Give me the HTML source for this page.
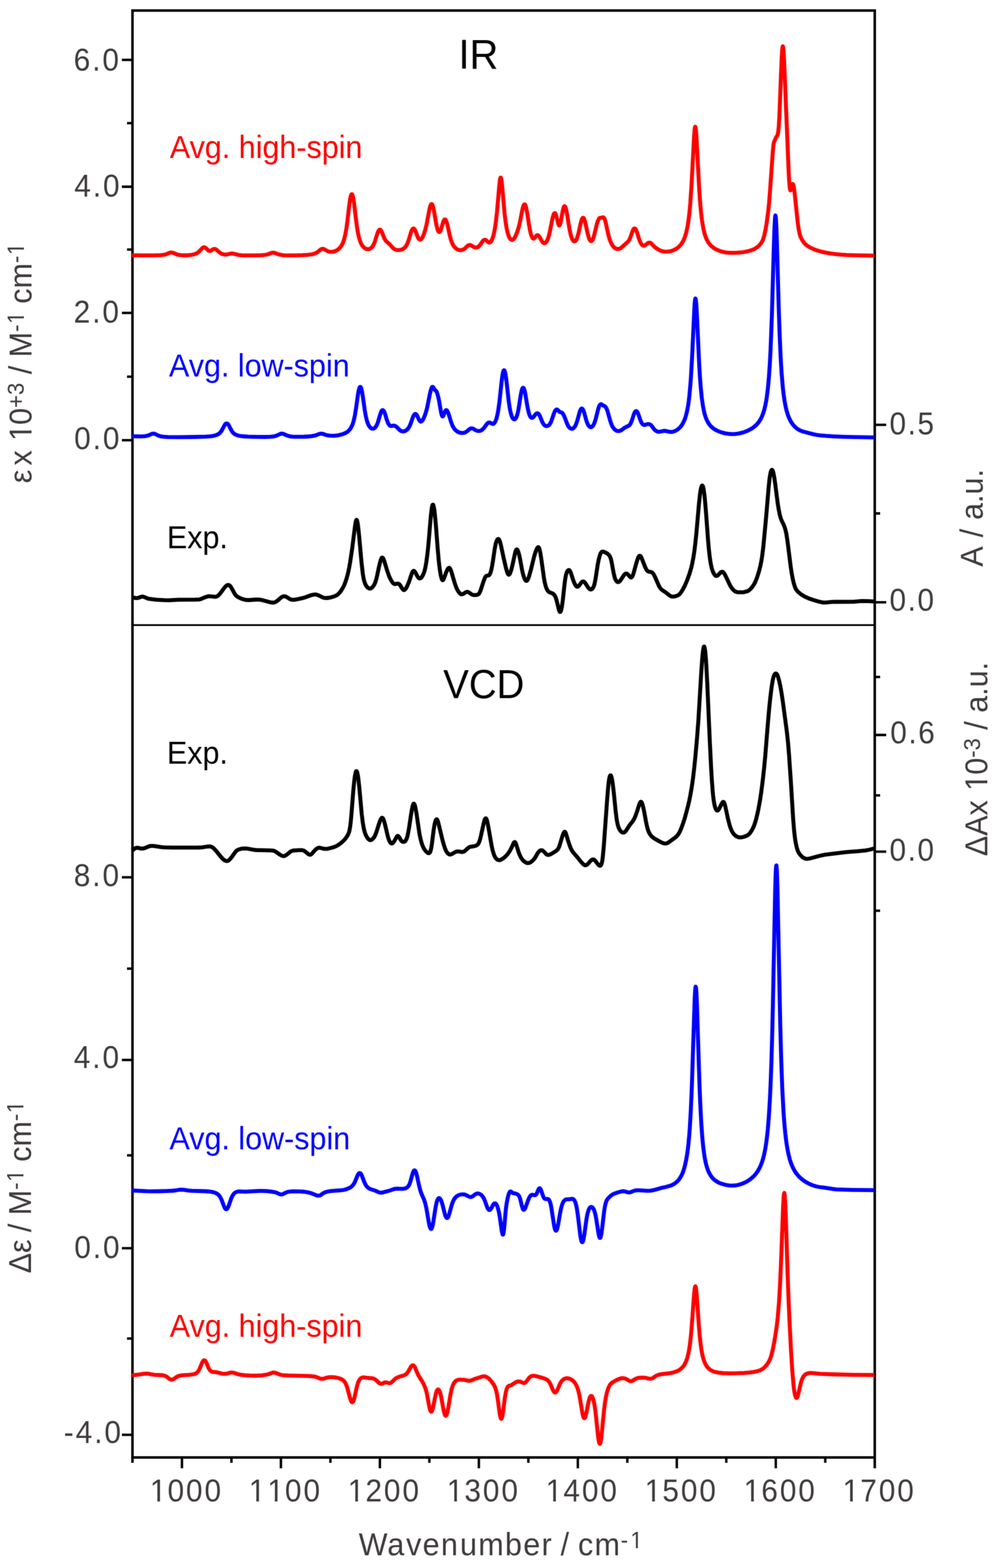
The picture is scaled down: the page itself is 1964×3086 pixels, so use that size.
<!DOCTYPE html>
<html lang="en"><head><meta charset="utf-8"><title>IR and VCD spectra</title>
<style>html,body{margin:0;padding:0;background:#fff}body{width:1964px;height:3086px;overflow:hidden}svg{display:block}text{font-family:"Liberation Sans", Arial, Helvetica, sans-serif;white-space:pre}.tk{fill:#3f3b3c}.ax{stroke:#000;fill:none;stroke-linecap:butt}.cv{fill:none;stroke-linejoin:round;stroke-linecap:butt}</style></head><body>
<svg width="1964" height="3086" viewBox="0 0 1964 3086">
<rect width="1964" height="3086" fill="#fff"/>
<defs><filter id="soft" x="0" y="0" width="1964" height="3086" filterUnits="userSpaceOnUse" color-interpolation-filters="sRGB"><feConvolveMatrix order="3" kernelMatrix="1 4 1 4 16 4 1 4 1" divisor="36" edgeMode="duplicate" preserveAlpha="true"/></filter></defs>
<g filter="url(#soft)">
<rect width="1964" height="3086" fill="#fff"/>
<rect class="ax" stroke-width="5.00" stroke-linejoin="miter" x="260.70" y="20.75" width="1460.75" height="2847.70"/>
<path class="ax" stroke-width="3.40" d="M260.70,1230.20 H1721.45"/>
<path class="ax" stroke-width="4.80" d="M239.90,117.90H260.70M239.90,367.50H260.70M239.90,615.80H260.70M239.90,866.40H260.70M239.90,1726.60H260.70M239.90,2086.20H260.70M239.90,2456.70H260.70M239.90,2823.90H260.70M250.00,242.40H260.70M250.00,491.20H260.70M250.00,741.30H260.70M250.00,1906.30H260.70M250.00,2273.90H260.70M250.00,2634.30H260.70M1721.45,836.20H1743.95M1721.45,1185.30H1743.95M1721.45,1446.50H1743.95M1721.45,1676.20H1743.95M1721.45,1010.50H1732.05M1721.45,1332.30H1732.05M1721.45,1565.40H1732.05M1721.45,1792.30H1732.05M358.08,2868.45V2889.85M552.85,2868.45V2889.85M747.61,2868.45V2889.85M942.38,2868.45V2889.85M1137.15,2868.45V2889.85M1331.91,2868.45V2889.85M1526.68,2868.45V2889.85M455.47,2868.45V2878.95M650.23,2868.45V2878.95M845.00,2868.45V2878.95M1039.77,2868.45V2878.95M1234.54,2868.45V2878.95M1429.30,2868.45V2878.95M1624.07,2868.45V2878.95"/>
<path class="ax" stroke-width="5.00" d="M260.70,2868.45V2878.95M1721.45,2868.45V2889.85"/>
<path class="cv" stroke="#000000" stroke-width="7.80" d="M260.5,1175.6 L266.0,1176.9 L269.5,1177.1 L272.5,1176.5 L278.0,1174.5 L279.5,1174.2 L281.0,1174.2 L284.0,1175.0 L290.5,1177.9 L294.0,1178.7 L308.0,1180.3 L322.5,1181.2 L333.0,1181.3 L351.0,1180.4 L384.5,1180.2 L391.0,1179.9 L393.0,1179.6 L395.5,1178.9 L405.0,1174.9 L409.0,1173.7 L411.0,1173.5 L413.5,1173.5 L423.0,1174.6 L425.0,1174.4 L427.0,1173.7 L429.5,1172.0 L432.0,1169.5 L434.5,1166.4 L440.5,1158.2 L443.5,1154.6 L445.0,1153.2 L446.5,1152.1 L448.0,1151.4 L449.0,1151.2 L450.5,1151.5 L451.5,1152.0 L453.5,1154.0 L456.0,1157.9 L462.0,1168.9 L463.5,1171.0 L465.5,1173.1 L469.0,1175.4 L475.0,1178.2 L480.0,1179.9 L485.0,1180.8 L490.0,1181.0 L504.5,1180.0 L510.5,1180.2 L516.5,1181.2 L531.5,1185.3 L535.0,1185.8 L538.0,1186.0 L540.5,1185.5 L543.0,1184.4 L546.0,1182.2 L553.5,1175.7 L556.0,1174.3 L558.5,1173.5 L560.5,1173.6 L562.5,1174.3 L564.5,1175.3 L569.5,1178.6 L571.5,1179.6 L573.5,1180.2 L576.0,1180.5 L579.5,1180.3 L583.5,1179.7 L595.5,1177.1 L600.5,1175.7 L612.0,1171.5 L615.5,1170.6 L619.0,1170.0 L621.5,1170.1 L624.5,1170.8 L627.0,1171.8 L635.0,1175.7 L637.5,1176.5 L639.5,1176.9 L643.0,1177.0 L647.5,1176.5 L652.0,1175.5 L657.0,1174.0 L661.5,1172.1 L664.5,1170.2 L667.5,1167.3 L671.0,1162.8 L674.5,1157.3 L677.0,1152.5 L679.5,1146.3 L682.0,1138.7 L684.0,1131.5 L685.5,1125.2 L687.0,1118.0 L689.0,1106.9 L693.0,1080.0 L699.0,1032.7 L700.5,1025.1 L701.0,1023.8 L701.5,1023.2 L702.0,1023.3 L702.5,1024.1 L703.0,1025.7 L704.0,1030.8 L705.0,1038.2 L707.0,1057.5 L711.5,1107.8 L714.0,1129.3 L715.5,1138.3 L717.0,1144.5 L719.0,1149.9 L721.0,1153.5 L723.0,1155.9 L725.0,1157.5 L727.0,1158.3 L729.0,1158.3 L730.5,1157.7 L732.5,1156.1 L734.5,1153.8 L736.5,1150.6 L738.5,1146.3 L740.5,1139.9 L742.0,1133.6 L746.0,1114.6 L748.5,1104.6 L749.5,1101.5 L750.5,1099.1 L751.5,1097.7 L752.0,1097.4 L752.5,1097.3 L753.0,1097.5 L754.0,1098.7 L755.5,1102.0 L762.0,1123.3 L765.5,1133.4 L768.0,1139.1 L771.0,1144.3 L773.5,1147.5 L775.0,1148.8 L776.0,1149.3 L778.0,1149.5 L782.0,1148.6 L783.0,1148.5 L784.0,1148.7 L785.0,1149.2 L786.0,1150.0 L787.5,1151.9 L791.0,1157.6 L792.5,1159.7 L794.0,1161.0 L795.0,1161.3 L795.5,1161.3 L796.5,1160.8 L798.0,1159.3 L799.5,1157.0 L801.5,1153.1 L805.0,1144.7 L810.5,1128.3 L812.0,1125.2 L813.0,1124.0 L813.5,1123.6 L814.5,1123.5 L815.0,1123.8 L816.0,1124.6 L817.5,1126.8 L821.0,1133.5 L822.5,1135.9 L824.0,1137.7 L825.5,1138.5 L826.5,1138.5 L827.5,1138.1 L828.5,1137.4 L830.0,1135.7 L832.5,1131.5 L834.5,1126.7 L836.0,1121.7 L837.5,1114.9 L839.0,1106.1 L840.5,1095.4 L842.0,1082.6 L843.5,1067.4 L847.0,1025.3 L848.5,1009.4 L849.5,1001.4 L850.5,995.9 L851.0,994.2 L851.5,993.3 L852.0,993.1 L852.5,993.6 L853.5,996.6 L854.5,1002.1 L855.5,1009.8 L857.5,1030.2 L861.5,1081.7 L863.5,1104.0 L864.5,1113.0 L866.0,1124.2 L867.5,1132.7 L869.0,1138.6 L870.0,1141.0 L870.5,1141.6 L871.0,1141.9 L871.5,1141.9 L872.5,1140.9 L874.0,1137.7 L878.0,1126.4 L880.5,1120.8 L882.0,1118.5 L883.0,1117.7 L884.0,1117.5 L885.0,1118.1 L886.5,1120.5 L888.0,1124.4 L895.0,1148.2 L898.0,1156.5 L900.5,1161.6 L903.0,1165.6 L905.0,1167.9 L907.0,1169.4 L908.5,1169.7 L910.5,1169.3 L912.0,1168.6 L916.5,1165.7 L918.0,1165.1 L919.0,1164.9 L920.5,1165.0 L922.0,1165.6 L928.5,1169.9 L930.5,1170.8 L932.5,1171.2 L936.0,1171.2 L939.5,1170.6 L941.5,1169.5 L943.0,1167.8 L944.5,1165.1 L946.0,1161.3 L952.0,1142.9 L954.5,1136.7 L955.5,1135.0 L957.0,1133.5 L958.5,1133.0 L961.0,1132.7 L962.5,1132.0 L964.0,1130.1 L965.5,1126.5 L967.0,1121.0 L968.5,1113.7 L970.0,1104.7 L973.5,1080.8 L975.5,1070.3 L976.5,1066.8 L978.0,1063.1 L979.5,1061.1 L980.5,1060.7 L981.5,1061.2 L982.5,1062.6 L983.5,1064.9 L984.5,1068.1 L986.0,1074.1 L991.0,1097.6 L995.5,1117.1 L998.0,1126.0 L999.0,1128.5 L1000.0,1130.2 L1001.0,1131.1 L1001.5,1131.1 L1002.0,1130.9 L1003.0,1129.8 L1004.5,1126.6 L1006.0,1122.0 L1008.0,1114.3 L1014.0,1086.8 L1015.0,1083.7 L1016.0,1081.8 L1016.5,1081.3 L1017.0,1081.2 L1017.5,1081.3 L1018.5,1082.5 L1019.5,1084.7 L1021.5,1091.3 L1023.5,1100.6 L1027.5,1122.4 L1030.0,1132.6 L1031.5,1137.0 L1033.0,1140.3 L1034.5,1142.5 L1035.5,1143.2 L1036.5,1143.1 L1037.0,1142.9 L1038.0,1141.7 L1039.5,1138.8 L1041.0,1134.6 L1045.0,1120.5 L1051.0,1095.8 L1052.5,1090.6 L1054.5,1084.7 L1056.0,1081.1 L1057.5,1078.2 L1058.5,1077.1 L1059.0,1076.9 L1059.5,1076.9 L1060.0,1077.2 L1061.0,1078.8 L1061.5,1080.2 L1062.5,1083.9 L1063.5,1089.0 L1065.5,1101.9 L1070.5,1138.0 L1072.0,1146.3 L1074.0,1154.1 L1075.0,1157.0 L1076.5,1160.3 L1077.5,1162.0 L1079.0,1163.8 L1080.0,1164.7 L1081.5,1165.7 L1086.5,1167.6 L1088.5,1168.6 L1090.5,1170.5 L1092.0,1172.7 L1093.5,1175.9 L1095.0,1180.3 L1100.0,1200.6 L1101.0,1203.2 L1101.5,1204.0 L1102.0,1204.4 L1102.5,1204.4 L1103.0,1203.9 L1103.5,1203.1 L1104.5,1200.1 L1105.5,1195.6 L1107.5,1182.0 L1111.0,1149.4 L1112.5,1138.2 L1113.5,1132.9 L1114.5,1129.0 L1115.5,1126.2 L1117.0,1123.4 L1118.5,1122.0 L1119.5,1121.8 L1120.5,1122.2 L1121.0,1122.7 L1122.0,1124.3 L1123.5,1127.8 L1127.5,1140.3 L1129.5,1145.7 L1132.0,1150.9 L1133.5,1153.2 L1134.5,1154.2 L1136.0,1154.8 L1137.0,1154.7 L1138.0,1154.1 L1139.5,1152.6 L1143.5,1147.2 L1145.0,1145.6 L1146.5,1144.6 L1148.0,1144.4 L1149.5,1145.1 L1151.5,1147.1 L1157.0,1155.6 L1159.5,1158.7 L1161.0,1159.8 L1162.0,1160.2 L1163.0,1160.2 L1164.0,1159.9 L1165.0,1159.2 L1166.0,1158.2 L1167.5,1156.0 L1169.0,1152.5 L1170.0,1149.2 L1172.0,1139.2 L1176.5,1109.9 L1178.0,1102.3 L1180.0,1094.5 L1181.5,1090.1 L1182.5,1088.1 L1184.0,1086.2 L1185.5,1085.6 L1187.0,1085.6 L1189.0,1086.2 L1192.0,1087.6 L1195.0,1089.4 L1196.5,1090.5 L1198.0,1091.9 L1199.5,1093.9 L1200.5,1095.7 L1202.0,1099.6 L1203.5,1105.4 L1207.5,1127.4 L1209.5,1135.9 L1210.5,1138.9 L1212.0,1142.0 L1213.0,1143.5 L1214.5,1145.0 L1215.5,1145.5 L1217.0,1145.6 L1218.0,1145.2 L1219.5,1144.1 L1222.0,1140.9 L1228.0,1131.7 L1230.0,1129.6 L1231.5,1128.8 L1233.0,1128.8 L1234.5,1129.5 L1236.0,1130.9 L1239.5,1134.9 L1241.0,1136.2 L1242.0,1136.5 L1242.5,1136.5 L1243.5,1135.8 L1245.0,1133.4 L1246.5,1129.2 L1252.0,1109.2 L1255.0,1099.6 L1256.5,1096.1 L1257.5,1094.6 L1258.5,1093.8 L1259.5,1093.8 L1260.0,1094.1 L1261.0,1095.2 L1262.5,1098.0 L1269.5,1115.7 L1272.0,1120.9 L1273.5,1123.0 L1275.0,1124.3 L1277.0,1125.1 L1280.5,1125.7 L1282.0,1126.2 L1284.0,1127.4 L1285.5,1129.1 L1287.0,1131.4 L1289.0,1135.4 L1296.5,1152.6 L1298.0,1155.4 L1300.0,1158.3 L1301.5,1159.9 L1303.5,1161.6 L1310.5,1166.2 L1317.0,1171.4 L1319.0,1172.7 L1321.0,1173.7 L1323.0,1174.1 L1325.0,1174.2 L1327.5,1173.8 L1330.5,1173.1 L1333.0,1172.2 L1335.0,1171.2 L1336.5,1170.1 L1338.0,1168.7 L1339.5,1166.8 L1343.5,1160.6 L1348.0,1152.1 L1352.5,1141.4 L1357.0,1128.9 L1360.5,1116.8 L1362.5,1108.0 L1364.5,1097.4 L1366.5,1084.3 L1368.0,1072.6 L1370.5,1048.9 L1375.5,991.7 L1377.5,973.0 L1378.5,966.1 L1380.0,958.9 L1381.0,956.3 L1381.5,955.7 L1382.0,955.5 L1382.5,955.9 L1383.0,956.7 L1383.5,958.0 L1384.5,962.2 L1385.5,968.2 L1387.0,980.8 L1389.0,1003.7 L1393.5,1064.1 L1395.0,1080.8 L1396.5,1094.4 L1398.0,1105.1 L1399.5,1113.2 L1401.0,1119.4 L1403.0,1125.2 L1404.5,1128.4 L1406.5,1131.5 L1407.5,1132.6 L1408.5,1133.3 L1410.0,1133.6 L1411.5,1133.1 L1413.0,1132.0 L1417.5,1127.3 L1419.0,1126.0 L1420.0,1125.5 L1421.0,1125.3 L1422.5,1125.6 L1423.5,1126.4 L1424.5,1127.6 L1426.5,1130.8 L1430.5,1138.8 L1436.0,1150.6 L1438.0,1154.3 L1441.0,1158.6 L1444.0,1161.9 L1447.0,1164.1 L1448.5,1164.8 L1450.5,1165.3 L1454.0,1165.6 L1459.5,1165.7 L1462.5,1165.6 L1465.5,1165.1 L1470.5,1163.7 L1472.5,1162.8 L1474.5,1161.4 L1476.5,1159.6 L1479.0,1156.9 L1481.5,1153.6 L1483.5,1150.6 L1485.5,1147.0 L1487.0,1143.8 L1490.0,1136.1 L1493.5,1125.0 L1496.5,1113.1 L1498.0,1105.8 L1499.5,1096.9 L1501.0,1085.9 L1502.5,1072.7 L1507.5,1019.9 L1512.5,960.8 L1514.0,945.6 L1515.0,937.9 L1516.5,929.8 L1517.5,926.7 L1518.0,925.6 L1518.5,925.0 L1519.0,924.7 L1519.5,924.9 L1520.0,925.3 L1521.0,927.4 L1522.0,930.9 L1523.5,938.4 L1525.5,951.7 L1530.5,990.7 L1532.0,1000.2 L1534.0,1010.6 L1535.5,1016.7 L1537.0,1021.4 L1538.5,1025.1 L1542.5,1033.3 L1544.5,1038.6 L1546.0,1043.8 L1547.5,1050.7 L1550.0,1066.9 L1556.0,1115.1 L1558.0,1128.1 L1560.0,1138.9 L1562.0,1147.6 L1564.0,1154.2 L1566.0,1158.8 L1568.5,1162.6 L1571.5,1165.7 L1576.5,1169.7 L1581.5,1172.9 L1587.0,1175.7 L1593.0,1178.3 L1599.5,1180.5 L1613.0,1184.4 L1618.0,1185.5 L1621.0,1185.8 L1624.5,1185.8 L1637.0,1184.7 L1642.0,1184.5 L1679.5,1184.3 L1692.5,1183.2 L1697.0,1183.0 L1709.5,1183.1 L1721.0,1183.8"/>
<path class="cv" stroke="#0000ff" stroke-width="7.80" d="M259.5,858.7 L277.0,858.9 L282.0,858.7 L286.0,858.4 L291.0,857.3 L293.5,856.3 L298.0,854.2 L300.0,853.6 L301.5,853.5 L303.5,853.6 L305.0,854.0 L312.0,857.4 L316.0,858.7 L322.0,859.6 L330.5,860.1 L350.5,860.4 L382.0,860.0 L404.5,859.3 L411.5,858.9 L417.0,858.3 L422.0,857.4 L426.0,856.1 L429.5,854.5 L432.0,852.7 L434.0,850.6 L436.0,847.9 L442.5,835.8 L444.0,834.1 L445.0,833.5 L446.0,833.3 L447.0,833.5 L448.0,834.1 L449.5,835.8 L451.0,838.4 L454.0,844.5 L456.0,848.1 L458.0,850.9 L460.5,853.4 L463.5,855.3 L467.0,856.7 L471.5,857.8 L477.0,858.5 L488.0,859.3 L506.5,859.8 L521.5,860.0 L531.5,859.7 L537.0,859.1 L541.5,858.2 L545.0,857.0 L551.0,854.2 L552.5,853.7 L554.5,853.5 L556.5,853.7 L558.0,854.1 L564.5,857.0 L569.0,858.3 L575.0,859.3 L582.0,859.7 L589.5,859.7 L598.5,859.5 L607.0,859.0 L613.5,858.4 L620.0,857.2 L623.0,856.2 L628.0,854.2 L630.0,853.7 L631.5,853.5 L633.5,853.6 L635.0,853.8 L641.0,855.9 L643.5,856.6 L649.0,857.4 L654.5,857.7 L658.5,857.6 L662.5,857.2 L667.0,856.4 L672.5,855.0 L676.5,853.7 L680.0,852.2 L683.0,850.4 L686.0,847.9 L688.5,845.2 L690.5,842.3 L692.5,838.4 L694.0,834.8 L695.5,830.1 L697.0,824.3 L698.5,817.0 L700.5,804.7 L704.5,776.0 L706.0,767.8 L707.5,762.9 L708.0,762.1 L708.5,761.6 L709.0,761.4 L709.5,761.6 L710.0,762.2 L711.0,764.5 L712.5,770.8 L714.0,780.1 L718.0,808.4 L719.5,817.0 L721.5,825.9 L723.5,832.3 L724.5,834.8 L726.0,837.8 L727.0,839.4 L728.5,841.2 L730.0,842.5 L731.5,843.4 L732.5,843.7 L734.0,843.7 L736.0,843.2 L737.5,842.1 L738.5,841.2 L740.5,838.4 L742.5,834.3 L744.0,830.2 L748.0,816.4 L749.5,811.9 L751.0,808.7 L752.0,807.6 L753.0,807.1 L754.0,807.4 L755.0,808.4 L756.5,811.2 L758.0,815.4 L761.0,825.4 L762.5,829.8 L764.0,833.3 L766.0,836.4 L767.5,837.7 L769.0,838.3 L770.5,838.3 L773.5,837.8 L775.0,837.7 L776.5,837.9 L778.0,838.5 L780.5,840.2 L786.5,846.3 L788.5,847.7 L790.5,848.6 L792.0,848.9 L793.5,849.0 L795.5,848.8 L797.0,848.3 L798.5,847.6 L800.0,846.6 L801.5,845.3 L803.0,843.6 L805.0,840.6 L807.0,836.6 L809.0,831.4 L812.0,822.6 L813.5,818.9 L815.0,816.3 L816.5,814.9 L817.5,814.7 L818.5,815.0 L820.0,816.6 L821.5,819.3 L824.5,825.9 L825.5,827.6 L826.5,828.9 L828.0,829.8 L828.5,829.8 L829.5,829.4 L831.0,828.0 L833.0,824.7 L835.5,819.0 L837.5,813.4 L839.5,806.6 L841.0,800.4 L846.0,775.3 L847.5,768.9 L848.5,765.6 L849.5,763.1 L850.5,761.6 L851.0,761.3 L851.5,761.3 L852.5,762.1 L855.5,767.2 L858.5,769.8 L859.5,771.5 L860.5,774.3 L862.0,779.6 L863.5,786.0 L868.0,811.7 L869.0,816.0 L870.0,818.7 L870.5,819.4 L871.0,819.7 L871.5,819.5 L872.0,819.0 L873.0,817.1 L876.0,809.4 L877.0,807.8 L878.0,807.1 L878.5,807.1 L879.5,807.8 L881.0,810.2 L882.5,813.7 L887.5,829.9 L890.0,836.7 L891.5,839.8 L893.0,842.3 L894.5,844.4 L896.5,846.6 L899.5,849.0 L902.5,850.7 L905.5,851.7 L909.0,852.2 L912.5,851.9 L914.5,851.4 L916.0,850.7 L919.0,848.8 L924.0,844.5 L925.5,843.6 L927.5,843.1 L929.5,843.1 L931.0,843.6 L936.0,846.7 L938.5,847.8 L941.0,848.3 L943.5,848.2 L945.5,847.7 L947.0,847.0 L948.5,846.1 L950.0,844.9 L952.5,842.2 L958.0,834.4 L959.5,832.9 L960.5,832.2 L962.0,831.6 L963.5,831.5 L965.0,832.1 L968.5,834.2 L969.5,834.4 L970.5,834.4 L972.0,833.5 L973.0,832.5 L974.5,830.1 L975.5,827.9 L977.0,823.7 L978.0,820.0 L979.5,813.3 L980.5,807.7 L983.0,789.7 L987.0,752.2 L988.5,740.3 L990.0,732.4 L991.0,729.6 L991.5,728.9 L992.0,728.7 L992.5,729.0 L993.0,729.7 L994.0,732.7 L995.5,740.8 L997.0,752.6 L1001.0,788.6 L1002.5,799.3 L1004.0,807.8 L1005.5,814.3 L1007.5,820.2 L1008.5,822.3 L1009.5,823.8 L1010.5,824.8 L1011.5,825.3 L1012.5,825.4 L1013.5,825.0 L1015.0,823.4 L1016.5,820.5 L1018.0,816.0 L1019.0,812.1 L1020.5,804.7 L1024.5,779.4 L1026.0,771.2 L1027.5,765.7 L1028.5,763.7 L1029.0,763.2 L1029.5,763.1 L1030.0,763.2 L1030.5,763.7 L1031.0,764.5 L1032.5,769.0 L1034.0,776.3 L1037.5,797.8 L1039.0,805.7 L1041.0,813.8 L1042.0,816.7 L1043.5,819.9 L1044.5,821.2 L1045.5,822.1 L1046.5,822.5 L1048.0,822.2 L1049.0,821.6 L1050.0,820.6 L1054.0,815.3 L1055.5,813.9 L1057.0,813.3 L1058.0,813.4 L1059.0,813.8 L1060.5,815.2 L1062.0,817.7 L1067.0,830.0 L1069.0,833.8 L1070.0,835.3 L1071.5,837.0 L1072.5,837.7 L1074.0,838.4 L1076.0,838.7 L1078.0,838.3 L1080.0,837.0 L1082.0,834.7 L1084.0,831.2 L1085.5,827.6 L1090.0,814.1 L1091.5,810.4 L1092.5,808.5 L1094.0,806.6 L1095.0,806.0 L1096.0,805.9 L1097.5,806.8 L1101.0,810.5 L1102.0,811.0 L1105.0,811.7 L1106.0,812.3 L1108.0,814.7 L1109.5,817.4 L1111.0,820.7 L1116.5,835.1 L1118.0,838.1 L1120.0,841.1 L1121.5,842.6 L1123.5,843.7 L1125.5,844.0 L1127.5,843.4 L1129.0,842.3 L1130.5,840.7 L1132.0,838.4 L1133.5,835.3 L1136.0,828.2 L1140.0,813.4 L1141.5,808.6 L1143.0,805.5 L1144.0,804.3 L1145.0,804.0 L1146.0,804.4 L1147.0,805.5 L1148.5,808.8 L1150.0,813.5 L1154.0,828.0 L1155.5,832.2 L1157.0,835.5 L1158.5,838.0 L1160.5,840.0 L1161.5,840.6 L1162.5,840.8 L1164.0,840.6 L1165.5,839.6 L1167.0,837.8 L1168.5,835.2 L1169.5,833.0 L1171.0,828.9 L1172.5,823.9 L1176.5,807.7 L1178.5,800.9 L1179.5,798.6 L1180.5,796.9 L1182.0,795.6 L1183.0,795.5 L1184.0,795.9 L1187.0,798.1 L1189.5,799.1 L1190.5,799.7 L1191.5,800.7 L1193.0,803.0 L1194.5,806.2 L1195.5,809.0 L1201.0,828.5 L1202.5,833.0 L1204.0,836.7 L1206.0,840.6 L1208.5,844.0 L1211.0,846.4 L1213.5,847.8 L1215.0,848.2 L1217.0,848.4 L1219.0,848.2 L1221.0,847.6 L1223.5,846.2 L1229.5,841.7 L1232.0,840.4 L1236.5,838.4 L1238.5,837.0 L1240.5,834.4 L1242.5,830.3 L1244.0,826.1 L1247.0,816.6 L1248.5,812.6 L1250.0,810.0 L1251.0,809.2 L1252.0,809.0 L1253.0,809.4 L1254.0,810.5 L1255.5,813.3 L1260.0,826.3 L1262.0,831.1 L1264.0,834.2 L1265.0,835.2 L1266.0,835.9 L1267.0,836.3 L1268.5,836.4 L1270.0,836.1 L1273.5,834.8 L1275.0,834.6 L1277.0,834.7 L1279.0,835.4 L1280.5,836.2 L1282.0,837.6 L1287.0,844.4 L1289.0,846.6 L1291.5,848.4 L1294.5,849.5 L1296.5,849.8 L1298.5,849.7 L1304.5,848.3 L1307.5,848.0 L1310.5,848.2 L1316.0,849.6 L1318.5,850.0 L1321.5,850.1 L1324.5,849.6 L1327.0,848.8 L1330.0,847.5 L1332.5,846.0 L1335.0,844.1 L1337.5,841.8 L1339.5,839.6 L1341.5,837.0 L1343.5,833.8 L1346.5,827.8 L1348.0,824.0 L1349.5,819.4 L1352.0,809.7 L1354.0,799.1 L1355.5,788.8 L1357.0,775.8 L1359.5,746.1 L1362.0,702.7 L1366.5,606.0 L1367.5,592.8 L1368.0,589.0 L1368.5,587.5 L1369.0,588.1 L1369.5,591.0 L1370.5,602.7 L1371.5,620.7 L1376.0,717.9 L1377.5,742.8 L1379.0,762.5 L1381.0,782.5 L1383.5,800.0 L1386.0,812.0 L1387.5,817.5 L1389.0,822.1 L1391.0,827.0 L1393.5,831.7 L1396.0,835.5 L1399.0,839.0 L1402.5,842.2 L1406.5,845.0 L1411.0,847.5 L1416.0,849.6 L1422.0,851.6 L1428.5,853.1 L1435.0,854.0 L1441.0,854.3 L1446.5,854.1 L1452.5,853.4 L1458.5,852.1 L1464.5,850.4 L1469.5,848.5 L1474.0,846.4 L1478.5,843.9 L1482.5,841.2 L1486.0,838.4 L1489.5,835.1 L1492.5,831.5 L1495.0,828.0 L1497.5,823.7 L1499.5,819.5 L1501.5,814.5 L1503.0,809.9 L1504.5,804.7 L1506.0,798.4 L1507.5,790.8 L1509.0,781.6 L1511.0,765.8 L1513.0,744.7 L1515.0,715.7 L1516.5,686.9 L1519.0,621.4 L1523.0,480.9 L1524.0,451.2 L1525.0,431.2 L1525.5,425.9 L1526.0,424.1 L1526.5,425.9 L1527.0,431.2 L1528.0,451.3 L1529.0,481.0 L1532.5,605.8 L1534.0,650.9 L1536.0,697.9 L1538.0,732.2 L1540.5,762.2 L1542.0,775.5 L1544.0,789.4 L1546.0,800.0 L1548.0,808.4 L1550.5,816.6 L1553.0,823.0 L1556.5,829.9 L1558.5,833.0 L1560.5,835.7 L1562.5,838.1 L1565.0,840.6 L1567.5,842.8 L1570.0,844.6 L1574.5,847.2 L1579.0,849.0 L1590.5,852.1 L1600.5,854.6 L1607.5,856.0 L1614.0,856.9 L1626.0,857.9 L1641.0,858.8 L1658.5,859.6 L1678.0,860.2 L1721.0,860.8"/>
<path class="cv" stroke="#ff0000" stroke-width="7.80" d="M259.5,502.5 L300.5,502.6 L316.5,502.2 L321.0,501.7 L324.5,501.1 L327.5,500.1 L333.5,497.6 L335.5,497.1 L337.0,497.0 L340.0,497.4 L348.0,500.7 L350.5,501.4 L353.5,501.9 L358.0,502.3 L363.5,502.5 L369.0,502.4 L374.0,501.9 L378.5,501.3 L382.0,500.5 L385.0,499.5 L387.5,498.3 L389.5,497.0 L391.5,495.3 L398.0,488.3 L400.0,487.0 L401.5,486.6 L403.0,486.8 L404.5,487.6 L409.5,492.5 L411.0,493.6 L412.0,493.9 L413.0,494.0 L414.5,493.6 L419.0,490.7 L420.5,490.0 L422.0,489.8 L424.0,490.2 L426.5,491.8 L431.5,496.3 L434.0,498.2 L437.0,499.7 L440.0,500.7 L442.5,501.0 L445.5,500.9 L448.0,500.5 L453.5,499.2 L457.0,499.0 L460.5,499.5 L466.5,501.1 L470.0,501.8 L474.5,502.3 L480.5,502.6 L502.5,502.7 L512.0,502.4 L518.5,502.0 L522.5,501.5 L525.5,500.9 L528.5,500.0 L534.0,497.9 L536.0,497.4 L537.5,497.3 L539.5,497.4 L541.0,497.8 L547.5,500.3 L550.5,501.2 L554.5,501.9 L559.5,502.3 L568.5,502.6 L582.0,502.6 L595.5,502.2 L605.0,501.7 L614.0,500.5 L617.0,499.8 L620.0,498.8 L622.5,497.6 L624.5,496.4 L630.0,491.8 L631.5,490.8 L633.0,490.1 L635.0,489.7 L636.5,489.9 L638.0,490.4 L644.0,494.0 L647.5,495.3 L650.0,495.7 L652.5,495.7 L655.0,495.4 L657.5,494.9 L661.0,493.6 L664.0,491.9 L667.0,489.6 L669.5,487.0 L671.5,484.3 L673.5,480.8 L675.5,476.2 L677.0,471.8 L679.5,461.9 L682.0,447.6 L684.0,432.6 L687.5,402.4 L689.0,391.9 L690.5,385.0 L691.5,382.7 L692.0,382.2 L692.5,382.1 L693.0,382.5 L693.5,383.3 L694.0,384.6 L695.5,391.2 L697.0,401.4 L700.5,431.4 L702.5,446.6 L704.5,458.5 L706.5,467.5 L709.0,475.4 L710.5,479.0 L712.0,481.8 L713.5,484.1 L715.5,486.4 L717.5,488.2 L720.0,489.6 L721.5,490.2 L723.5,490.5 L725.5,490.4 L727.0,490.0 L728.5,489.3 L730.0,488.4 L731.5,487.0 L733.0,485.2 L735.5,481.0 L737.5,476.2 L742.5,460.2 L744.0,456.1 L745.5,453.3 L746.5,452.3 L747.5,451.9 L748.5,452.1 L749.0,452.5 L750.5,454.6 L752.0,457.8 L756.0,468.3 L757.5,471.3 L759.0,473.5 L761.0,475.6 L767.0,481.0 L772.0,486.7 L774.0,488.6 L777.0,490.7 L780.0,491.8 L782.5,492.2 L785.0,492.2 L787.5,491.9 L790.0,491.3 L792.5,490.2 L794.5,489.0 L796.5,487.3 L798.0,485.6 L800.5,481.8 L803.0,476.1 L805.0,470.2 L808.5,458.3 L810.0,454.1 L811.5,451.2 L813.0,449.8 L814.0,449.7 L815.0,450.3 L816.5,452.3 L818.0,455.7 L821.5,465.2 L823.0,468.4 L824.0,469.9 L825.0,471.0 L826.0,471.6 L827.0,471.7 L828.5,471.1 L830.0,469.5 L832.0,466.0 L834.0,461.2 L836.0,455.3 L838.0,448.1 L839.5,441.7 L844.5,415.1 L846.0,408.2 L847.0,404.8 L848.0,402.6 L848.5,402.0 L849.0,401.6 L849.5,401.6 L850.5,402.3 L851.0,403.2 L852.5,407.5 L854.0,414.5 L857.5,435.5 L859.0,443.5 L861.0,451.4 L862.5,455.0 L863.5,456.3 L864.5,456.7 L865.5,456.2 L866.5,454.8 L867.5,452.6 L868.5,449.7 L871.5,439.1 L873.0,434.8 L874.5,432.2 L875.5,431.7 L876.5,432.2 L878.0,434.5 L879.5,438.7 L881.0,444.7 L885.0,463.1 L886.5,469.0 L888.0,473.9 L889.5,477.8 L891.5,482.0 L893.5,485.1 L896.0,487.9 L899.0,490.2 L902.0,491.7 L905.5,492.4 L908.5,492.2 L911.0,491.5 L913.5,490.0 L915.5,488.4 L919.5,484.4 L921.0,483.3 L922.5,482.5 L924.5,482.2 L926.0,482.4 L927.5,483.0 L932.0,485.9 L934.0,486.8 L936.0,487.2 L938.0,487.1 L940.5,486.1 L943.0,484.1 L945.0,481.7 L949.5,475.1 L951.0,473.4 L952.5,472.3 L954.0,471.9 L955.5,472.1 L957.0,473.1 L961.0,476.9 L962.5,477.5 L963.5,477.4 L965.0,476.5 L966.5,474.8 L968.0,472.1 L969.5,468.5 L971.0,463.7 L972.5,457.5 L974.0,449.6 L975.5,439.7 L978.0,417.6 L983.0,360.7 L984.0,353.2 L984.5,350.9 L985.0,349.6 L985.5,349.5 L986.0,350.4 L986.5,352.5 L987.5,359.4 L993.0,420.1 L994.5,433.1 L996.5,446.5 L998.5,456.1 L999.5,459.8 L1001.0,464.3 L1002.0,466.6 L1003.5,469.3 L1005.0,471.1 L1006.5,472.0 L1007.5,472.2 L1009.0,471.9 L1010.5,470.8 L1012.0,469.0 L1013.5,466.6 L1015.0,463.5 L1018.0,456.0 L1020.5,448.2 L1022.5,440.4 L1024.5,430.8 L1027.5,415.0 L1029.0,408.3 L1030.5,403.9 L1031.5,402.4 L1032.0,402.1 L1032.5,402.1 L1033.5,403.0 L1034.5,405.2 L1035.5,408.7 L1037.5,419.2 L1041.0,442.2 L1042.5,450.9 L1044.5,459.8 L1045.5,463.1 L1047.0,466.8 L1048.0,468.4 L1049.0,469.4 L1049.5,469.6 L1050.5,469.6 L1052.0,468.4 L1055.0,464.4 L1056.0,463.4 L1057.0,462.8 L1057.5,462.7 L1058.5,462.8 L1060.0,463.9 L1061.5,465.8 L1066.0,473.8 L1067.5,476.1 L1069.5,478.1 L1071.0,478.7 L1072.0,478.6 L1073.0,478.2 L1074.0,477.4 L1075.0,476.3 L1077.0,472.9 L1079.0,467.8 L1080.5,462.6 L1082.0,456.3 L1087.5,428.7 L1089.0,423.4 L1090.0,421.0 L1091.0,419.6 L1091.5,419.3 L1092.0,419.4 L1092.5,419.7 L1093.5,421.3 L1095.0,425.9 L1098.5,440.0 L1099.5,442.6 L1100.0,443.4 L1100.5,443.8 L1101.0,443.7 L1101.5,443.2 L1102.0,442.3 L1103.5,437.0 L1107.0,417.4 L1108.5,410.4 L1109.5,407.3 L1110.0,406.4 L1110.5,405.9 L1111.0,405.7 L1111.5,405.9 L1112.5,407.3 L1113.5,410.1 L1114.5,414.0 L1116.0,421.8 L1120.5,449.7 L1123.0,461.4 L1124.5,466.6 L1126.0,470.4 L1127.5,473.0 L1128.5,474.2 L1129.5,474.9 L1130.5,475.1 L1131.5,474.8 L1133.0,473.6 L1134.5,471.2 L1136.0,467.6 L1138.5,458.9 L1143.5,436.3 L1145.0,431.5 L1146.0,429.6 L1146.5,429.0 L1147.5,428.5 L1148.5,429.0 L1149.0,429.7 L1150.0,431.8 L1152.0,438.8 L1156.0,457.6 L1158.5,467.0 L1159.5,469.7 L1161.0,472.7 L1162.5,474.3 L1163.5,474.6 L1164.5,474.2 L1165.5,473.1 L1166.5,471.3 L1168.0,467.4 L1170.0,460.2 L1174.5,441.4 L1176.0,436.5 L1178.0,431.7 L1179.5,429.4 L1180.5,428.7 L1183.5,428.6 L1185.5,427.8 L1186.5,427.6 L1187.5,427.9 L1188.0,428.2 L1189.0,429.4 L1190.0,431.3 L1191.0,434.2 L1192.5,440.2 L1195.5,454.6 L1197.5,463.2 L1199.5,470.2 L1201.5,475.7 L1203.5,479.9 L1206.0,484.0 L1208.5,486.9 L1210.0,488.1 L1211.5,489.1 L1213.5,489.8 L1216.0,490.1 L1218.5,489.7 L1221.0,488.6 L1224.0,486.4 L1228.5,482.1 L1235.5,476.0 L1237.5,473.5 L1239.5,469.7 L1241.0,465.9 L1244.5,455.7 L1246.0,452.2 L1247.5,450.1 L1248.0,449.8 L1249.0,449.6 L1250.0,450.0 L1250.5,450.5 L1251.5,452.0 L1252.5,454.1 L1254.0,458.4 L1257.5,470.0 L1260.0,476.5 L1262.0,480.1 L1263.0,481.4 L1264.5,482.7 L1265.5,483.2 L1266.5,483.5 L1267.5,483.5 L1268.5,483.2 L1270.5,482.1 L1274.0,479.1 L1275.5,478.2 L1277.0,477.6 L1279.0,477.6 L1280.5,478.2 L1282.0,479.3 L1287.5,485.3 L1290.5,487.9 L1295.0,490.8 L1300.0,493.4 L1304.0,494.6 L1309.0,495.3 L1314.0,495.2 L1319.0,494.5 L1322.5,493.5 L1325.5,492.3 L1328.5,490.9 L1331.5,489.1 L1334.0,487.3 L1336.5,485.1 L1339.0,482.5 L1341.0,480.0 L1343.0,476.9 L1344.5,474.2 L1347.5,467.3 L1350.0,459.5 L1352.5,448.7 L1354.0,440.2 L1355.5,429.6 L1357.0,416.3 L1358.5,399.6 L1361.0,362.2 L1366.0,266.7 L1367.0,254.7 L1367.5,251.1 L1368.0,249.4 L1368.5,249.6 L1369.0,251.7 L1369.5,255.6 L1370.5,268.2 L1376.0,372.2 L1377.5,394.3 L1379.5,417.1 L1381.5,433.8 L1384.0,448.9 L1385.5,455.6 L1387.0,461.1 L1388.5,465.7 L1390.5,470.7 L1393.0,475.5 L1395.5,479.3 L1398.5,482.9 L1402.0,486.1 L1406.0,489.0 L1410.5,491.4 L1416.0,493.7 L1421.5,495.4 L1427.5,496.7 L1434.0,497.5 L1440.0,497.7 L1448.0,497.6 L1456.5,497.0 L1464.0,496.0 L1471.0,494.7 L1477.0,493.0 L1480.5,491.8 L1484.0,490.3 L1487.0,488.6 L1490.0,486.6 L1492.5,484.5 L1495.0,482.0 L1497.0,479.6 L1499.0,476.7 L1500.5,474.0 L1501.5,471.7 L1504.0,463.6 L1506.5,452.1 L1508.5,440.6 L1511.5,418.7 L1513.5,399.4 L1515.5,374.0 L1520.5,302.7 L1522.0,286.2 L1522.5,282.7 L1523.5,278.8 L1525.0,275.9 L1527.0,270.9 L1527.5,270.0 L1529.5,267.4 L1530.5,264.8 L1531.5,259.6 L1532.5,250.2 L1534.0,224.7 L1537.0,144.6 L1538.5,110.4 L1539.5,96.2 L1540.0,92.4 L1540.5,91.1 L1541.0,92.1 L1541.5,95.6 L1542.0,101.2 L1543.0,118.1 L1552.0,336.5 L1553.0,355.5 L1554.0,368.1 L1554.5,371.8 L1555.0,373.9 L1555.5,374.7 L1556.0,374.4 L1556.5,373.2 L1558.5,365.5 L1559.5,362.8 L1560.0,362.2 L1560.5,362.4 L1561.0,363.2 L1561.5,364.8 L1562.5,370.0 L1564.0,381.5 L1569.0,430.1 L1571.0,446.2 L1572.0,452.5 L1573.5,459.7 L1574.5,463.3 L1576.0,467.4 L1578.5,472.1 L1582.5,478.0 L1585.5,481.3 L1588.5,483.7 L1593.5,486.7 L1601.5,490.5 L1608.5,493.1 L1615.5,495.1 L1624.5,497.1 L1634.5,498.8 L1644.5,500.2 L1654.5,501.1 L1666.0,501.8 L1682.5,502.4 L1721.0,503.2"/>
<path class="cv" stroke="#ff0000" stroke-width="7.80" d="M259.5,2706.6 L263.5,2706.4 L272.5,2705.4 L284.5,2703.6 L288.0,2703.3 L292.0,2703.6 L299.5,2705.2 L304.0,2705.8 L319.0,2706.5 L322.5,2707.1 L325.5,2708.1 L328.5,2709.9 L333.0,2713.5 L334.5,2714.5 L336.5,2715.3 L337.5,2715.4 L339.0,2715.3 L340.5,2714.8 L342.0,2714.0 L346.5,2710.6 L348.5,2709.4 L350.5,2708.4 L353.0,2707.6 L359.0,2706.6 L372.0,2705.8 L379.0,2705.0 L383.0,2704.1 L386.0,2702.8 L388.5,2700.8 L390.5,2698.3 L393.0,2693.5 L397.0,2683.7 L398.5,2680.5 L399.5,2678.9 L400.5,2677.8 L401.5,2677.2 L402.0,2677.2 L403.0,2677.4 L403.5,2677.8 L405.0,2679.8 L406.5,2682.8 L409.5,2690.3 L411.0,2693.5 L413.0,2696.6 L415.0,2698.5 L416.5,2699.4 L418.5,2700.0 L426.0,2700.7 L435.5,2703.1 L439.0,2703.8 L441.5,2703.9 L444.0,2703.8 L447.0,2703.2 L453.0,2701.6 L455.0,2701.3 L457.0,2701.3 L460.5,2702.0 L469.0,2704.8 L475.0,2705.9 L482.5,2706.6 L491.5,2707.2 L499.5,2707.5 L506.5,2707.5 L515.0,2706.9 L523.5,2705.7 L528.5,2704.5 L535.5,2701.8 L537.5,2701.4 L539.0,2701.3 L542.0,2701.8 L550.5,2705.2 L553.5,2706.0 L556.0,2706.4 L568.0,2707.2 L607.0,2708.2 L614.0,2708.6 L618.0,2709.1 L621.5,2709.9 L624.0,2710.7 L629.5,2713.1 L632.5,2713.7 L634.5,2713.7 L636.5,2713.5 L644.5,2711.1 L647.0,2710.7 L650.0,2710.4 L654.0,2710.4 L658.0,2710.7 L662.0,2711.3 L666.0,2712.2 L671.0,2714.0 L674.5,2715.9 L677.0,2718.1 L679.5,2721.6 L681.5,2725.7 L683.5,2731.4 L688.5,2750.5 L690.0,2755.3 L691.5,2758.5 L692.5,2759.6 L693.0,2759.8 L694.0,2759.5 L695.0,2758.3 L696.5,2754.5 L698.0,2748.8 L702.0,2730.3 L704.5,2721.5 L705.5,2719.0 L707.0,2716.1 L708.5,2714.1 L710.5,2712.3 L713.0,2711.2 L716.0,2710.9 L724.0,2712.0 L731.0,2712.4 L734.0,2712.9 L736.5,2713.8 L738.5,2715.0 L740.5,2716.6 L746.0,2721.9 L747.5,2722.8 L749.5,2723.4 L750.5,2723.5 L752.0,2723.2 L756.5,2721.1 L758.5,2720.6 L760.5,2720.7 L765.0,2722.1 L767.5,2722.0 L769.5,2721.3 L771.0,2720.3 L777.0,2714.3 L779.0,2712.7 L781.0,2711.5 L785.0,2709.8 L794.5,2707.1 L797.0,2705.9 L799.0,2704.6 L801.0,2702.7 L803.0,2700.0 L808.0,2691.1 L809.5,2688.8 L811.0,2687.4 L812.5,2687.0 L813.5,2687.2 L814.5,2688.0 L816.0,2690.0 L817.5,2693.1 L821.0,2701.7 L823.0,2706.0 L825.0,2709.5 L831.5,2719.8 L834.0,2724.7 L836.5,2730.5 L838.5,2736.4 L840.0,2742.4 L844.0,2764.4 L845.5,2771.7 L847.0,2776.5 L848.0,2778.0 L848.5,2778.3 L849.0,2778.2 L849.5,2777.8 L850.0,2777.1 L851.0,2774.7 L852.5,2769.1 L856.5,2748.6 L858.0,2742.2 L859.0,2738.9 L860.0,2736.5 L860.5,2735.7 L861.5,2734.7 L862.5,2734.6 L863.5,2735.3 L864.5,2736.8 L866.0,2740.6 L867.0,2744.1 L868.5,2750.7 L872.5,2772.9 L874.0,2779.9 L875.0,2783.3 L876.0,2785.5 L876.5,2786.1 L877.0,2786.4 L877.5,2786.3 L878.5,2785.3 L879.0,2784.4 L880.0,2781.4 L881.0,2777.3 L882.5,2769.2 L886.5,2744.8 L889.0,2733.3 L890.5,2728.4 L892.0,2724.6 L893.5,2721.9 L895.5,2719.2 L897.0,2717.8 L899.0,2716.6 L901.5,2715.8 L904.0,2715.4 L907.5,2715.4 L913.0,2715.6 L915.5,2716.0 L921.5,2717.4 L923.5,2717.5 L925.5,2717.3 L928.0,2716.6 L934.5,2713.7 L941.0,2711.9 L948.0,2709.4 L951.0,2708.8 L953.5,2708.7 L956.0,2709.4 L958.5,2710.6 L961.5,2712.9 L964.5,2715.7 L967.5,2719.2 L970.5,2723.5 L973.0,2727.6 L974.5,2730.9 L976.5,2737.2 L978.5,2746.8 L980.0,2756.7 L983.0,2779.4 L984.0,2785.5 L985.0,2789.9 L985.5,2791.3 L986.0,2792.2 L986.5,2792.5 L987.0,2792.1 L987.5,2791.2 L988.0,2789.6 L989.0,2785.0 L990.5,2774.8 L993.5,2751.3 L995.5,2739.9 L996.5,2735.8 L998.0,2731.5 L999.5,2729.0 L1001.0,2727.7 L1002.0,2727.2 L1004.5,2726.8 L1006.0,2726.3 L1013.5,2721.3 L1016.5,2719.8 L1019.0,2719.0 L1021.0,2718.8 L1022.5,2719.0 L1024.5,2719.6 L1029.5,2721.8 L1031.0,2721.9 L1032.5,2721.7 L1034.0,2720.9 L1035.5,2719.5 L1041.0,2712.0 L1043.5,2709.6 L1045.5,2708.5 L1047.5,2707.9 L1050.0,2707.7 L1052.5,2707.9 L1057.5,2709.0 L1072.0,2713.3 L1075.0,2714.6 L1077.5,2716.2 L1080.0,2718.8 L1082.5,2722.7 L1084.5,2727.0 L1088.0,2735.4 L1089.5,2738.3 L1091.0,2740.0 L1092.0,2740.6 L1092.5,2740.6 L1093.5,2740.4 L1094.0,2740.0 L1095.5,2738.2 L1097.0,2735.3 L1102.0,2723.5 L1104.0,2720.0 L1106.0,2717.3 L1108.5,2715.0 L1111.5,2713.3 L1114.5,2712.5 L1117.5,2712.6 L1120.0,2713.2 L1123.0,2714.4 L1125.5,2715.9 L1128.0,2717.9 L1130.0,2720.0 L1132.0,2722.6 L1134.0,2726.1 L1135.5,2729.3 L1138.0,2736.7 L1140.5,2747.3 L1146.5,2783.3 L1148.0,2788.9 L1148.5,2790.0 L1149.5,2791.1 L1150.0,2791.2 L1150.5,2790.9 L1151.0,2790.2 L1152.0,2788.1 L1153.0,2784.7 L1154.5,2777.9 L1158.0,2760.0 L1159.5,2754.0 L1160.5,2751.0 L1161.5,2748.9 L1162.0,2748.2 L1163.0,2747.4 L1163.5,2747.3 L1164.5,2747.8 L1166.0,2750.0 L1167.5,2754.0 L1168.5,2757.8 L1170.5,2768.5 L1172.5,2783.6 L1176.0,2818.1 L1177.5,2830.7 L1179.0,2839.0 L1179.5,2840.5 L1180.0,2841.4 L1180.5,2841.7 L1181.0,2841.2 L1181.5,2840.1 L1182.0,2838.3 L1183.5,2828.8 L1189.0,2773.0 L1190.5,2761.2 L1192.5,2749.0 L1194.5,2740.0 L1197.0,2732.1 L1199.5,2726.8 L1201.0,2724.7 L1203.0,2722.5 L1206.5,2719.9 L1214.0,2715.7 L1219.0,2713.6 L1221.5,2712.8 L1223.5,2712.5 L1227.0,2712.5 L1230.0,2713.0 L1233.0,2714.4 L1238.5,2717.7 L1240.0,2718.2 L1241.5,2718.3 L1243.5,2718.0 L1245.0,2717.4 L1250.5,2713.9 L1252.5,2712.9 L1255.0,2712.1 L1257.5,2711.7 L1262.0,2711.4 L1268.5,2711.5 L1271.5,2711.9 L1278.0,2713.6 L1280.0,2713.7 L1282.0,2713.3 L1285.0,2712.0 L1291.5,2707.6 L1294.0,2706.4 L1296.5,2705.6 L1302.5,2704.4 L1315.0,2703.0 L1320.5,2702.2 L1326.5,2700.7 L1331.5,2698.9 L1336.5,2696.4 L1340.5,2693.5 L1344.0,2689.9 L1347.0,2685.7 L1348.5,2682.9 L1350.0,2679.7 L1351.5,2675.7 L1353.0,2670.9 L1355.5,2660.0 L1357.5,2647.7 L1359.5,2630.7 L1361.0,2614.2 L1366.0,2546.2 L1367.0,2536.8 L1367.5,2533.8 L1368.0,2532.0 L1368.5,2531.6 L1369.0,2532.6 L1369.5,2534.9 L1370.5,2543.0 L1371.5,2554.9 L1376.0,2617.7 L1378.0,2638.8 L1380.0,2654.3 L1381.0,2660.3 L1382.5,2667.7 L1384.0,2673.5 L1385.5,2678.1 L1387.0,2681.9 L1389.0,2686.0 L1391.0,2689.2 L1393.5,2692.3 L1395.5,2694.2 L1397.5,2695.8 L1399.5,2697.1 L1402.0,2698.3 L1405.0,2699.5 L1408.0,2700.4 L1415.0,2701.7 L1423.5,2702.5 L1434.5,2702.8 L1450.5,2702.7 L1464.5,2702.1 L1474.0,2701.4 L1482.0,2700.3 L1489.0,2699.0 L1495.0,2697.2 L1499.0,2695.3 L1502.5,2692.8 L1506.0,2689.5 L1509.5,2685.3 L1513.0,2679.9 L1515.5,2674.7 L1518.0,2667.2 L1520.5,2657.2 L1523.5,2642.3 L1526.0,2627.7 L1528.5,2610.3 L1530.5,2593.1 L1533.0,2563.6 L1535.0,2530.0 L1537.0,2485.0 L1541.0,2377.4 L1542.0,2358.5 L1542.5,2352.4 L1543.0,2348.7 L1543.5,2347.9 L1544.0,2349.9 L1544.5,2354.8 L1545.5,2372.2 L1546.5,2397.7 L1550.0,2507.8 L1551.5,2549.7 L1553.5,2596.7 L1556.5,2654.9 L1559.0,2695.2 L1561.5,2725.2 L1562.5,2733.8 L1563.5,2740.4 L1564.5,2745.3 L1566.0,2749.8 L1567.0,2751.2 L1567.5,2751.4 L1568.0,2751.2 L1568.5,2750.7 L1569.5,2748.7 L1571.0,2743.6 L1576.0,2721.9 L1577.5,2716.9 L1579.5,2712.0 L1581.5,2708.6 L1583.5,2706.3 L1585.0,2705.1 L1586.5,2704.1 L1589.5,2703.0 L1592.5,2702.4 L1596.5,2702.2 L1614.0,2703.8 L1644.5,2705.0 L1680.0,2705.8 L1721.0,2706.2"/>
<path class="cv" stroke="#0000ff" stroke-width="7.80" d="M259.5,2343.0 L288.5,2344.4 L298.5,2344.6 L311.5,2344.5 L326.5,2344.1 L340.0,2343.5 L344.5,2343.0 L353.5,2341.5 L357.5,2341.3 L361.5,2341.6 L371.0,2343.1 L377.0,2343.7 L405.0,2344.5 L411.5,2345.0 L417.5,2345.9 L422.0,2347.0 L426.0,2348.7 L429.0,2350.7 L431.5,2353.3 L433.5,2356.2 L435.5,2360.1 L437.0,2363.7 L440.5,2373.3 L442.0,2376.7 L443.5,2379.0 L444.5,2379.7 L445.5,2379.9 L446.5,2379.4 L447.5,2378.4 L449.0,2375.7 L450.5,2371.9 L455.0,2358.8 L456.5,2355.4 L458.0,2352.6 L460.0,2349.8 L462.0,2347.8 L464.0,2346.5 L466.5,2345.5 L468.5,2345.0 L471.0,2344.8 L483.5,2345.3 L500.0,2344.3 L509.5,2343.9 L516.5,2343.9 L524.0,2344.2 L533.5,2345.1 L540.5,2346.3 L544.5,2347.5 L550.5,2350.3 L552.0,2350.7 L553.5,2350.8 L555.0,2350.7 L556.5,2350.3 L564.0,2346.6 L566.5,2345.8 L569.0,2345.3 L573.0,2344.8 L577.5,2344.6 L590.0,2344.8 L599.0,2345.5 L607.0,2346.9 L613.0,2348.6 L623.0,2352.7 L625.5,2353.2 L628.0,2353.1 L629.5,2352.7 L631.0,2352.0 L636.0,2348.5 L638.0,2347.3 L640.0,2346.5 L642.5,2345.7 L646.5,2344.8 L651.0,2344.2 L670.0,2342.7 L676.0,2342.0 L679.0,2341.3 L682.5,2340.2 L686.0,2338.7 L689.0,2337.2 L691.0,2335.9 L693.0,2334.2 L694.5,2332.6 L696.0,2330.5 L697.5,2328.0 L699.0,2324.8 L704.0,2312.6 L705.0,2310.8 L706.0,2309.6 L707.5,2308.7 L708.5,2308.8 L709.5,2309.4 L711.0,2311.4 L712.5,2314.6 L716.5,2325.3 L718.5,2329.9 L720.5,2333.4 L723.0,2336.5 L725.5,2338.5 L728.5,2340.1 L738.5,2343.4 L746.0,2346.7 L747.5,2347.1 L749.5,2347.3 L753.0,2347.0 L758.5,2345.4 L765.0,2343.8 L774.0,2340.6 L778.0,2339.6 L782.0,2339.4 L791.5,2339.9 L795.5,2339.4 L798.5,2338.6 L801.0,2337.2 L803.0,2335.3 L804.5,2333.2 L806.0,2330.2 L807.5,2326.1 L811.5,2311.5 L813.0,2306.9 L814.5,2304.0 L815.5,2303.3 L816.0,2303.3 L816.5,2303.6 L817.5,2304.8 L818.5,2307.0 L819.5,2310.1 L821.0,2316.2 L825.0,2334.8 L827.5,2344.1 L829.5,2349.6 L834.5,2361.0 L836.5,2367.0 L838.0,2372.9 L839.5,2380.3 L844.5,2409.4 L845.5,2413.6 L846.5,2416.6 L847.5,2418.3 L848.0,2418.7 L848.5,2418.7 L849.0,2418.4 L850.0,2416.7 L851.5,2411.4 L853.0,2403.2 L857.0,2377.3 L859.0,2367.4 L860.0,2363.8 L861.0,2361.1 L862.0,2359.3 L863.0,2358.3 L864.0,2357.9 L864.5,2358.0 L865.5,2358.5 L866.5,2359.7 L868.0,2362.5 L869.0,2365.0 L870.5,2369.8 L875.0,2387.9 L876.5,2392.9 L878.0,2396.1 L879.0,2397.1 L880.0,2397.2 L881.0,2396.6 L881.5,2395.9 L882.5,2394.1 L883.5,2391.5 L888.5,2373.2 L890.0,2368.5 L891.5,2364.6 L893.0,2361.5 L894.5,2359.0 L896.5,2356.5 L898.5,2354.7 L901.5,2352.7 L904.5,2351.5 L908.0,2350.7 L911.0,2350.6 L913.5,2350.8 L916.0,2351.5 L923.5,2355.4 L925.5,2355.8 L927.0,2355.8 L928.5,2355.4 L930.0,2354.6 L934.5,2351.1 L936.5,2349.9 L938.5,2349.1 L940.5,2348.9 L942.0,2349.1 L943.5,2349.6 L946.0,2350.9 L948.5,2353.2 L950.5,2355.8 L952.5,2359.3 L954.0,2362.7 L959.0,2376.6 L960.5,2379.5 L962.0,2381.1 L962.5,2381.3 L963.5,2381.4 L964.5,2380.9 L965.5,2379.9 L967.0,2377.6 L970.5,2371.1 L971.5,2369.7 L972.5,2368.8 L974.0,2368.3 L975.0,2368.6 L976.0,2369.4 L977.0,2370.7 L978.5,2373.7 L979.5,2376.5 L981.5,2384.1 L983.5,2394.9 L987.5,2422.9 L988.5,2427.7 L989.0,2429.2 L989.5,2429.9 L990.0,2429.9 L990.5,2428.8 L991.0,2426.6 L992.0,2419.1 L995.0,2385.0 L996.0,2375.9 L997.0,2368.8 L998.5,2360.6 L1000.0,2354.1 L1001.5,2349.2 L1003.0,2346.1 L1004.0,2345.1 L1005.0,2345.0 L1006.0,2345.5 L1008.5,2347.6 L1009.5,2348.1 L1014.0,2348.9 L1017.0,2349.9 L1019.0,2351.2 L1020.5,2352.6 L1022.0,2354.9 L1023.5,2358.8 L1027.0,2373.3 L1028.5,2378.4 L1029.5,2380.3 L1030.0,2380.9 L1030.5,2381.1 L1031.0,2381.0 L1031.5,2380.8 L1032.5,2379.7 L1034.0,2377.0 L1040.0,2360.4 L1042.0,2356.1 L1043.5,2353.8 L1045.0,2352.2 L1046.5,2351.5 L1048.0,2351.5 L1051.0,2352.2 L1052.5,2352.3 L1053.5,2352.1 L1054.5,2351.5 L1055.5,2350.3 L1056.5,2348.4 L1060.0,2340.3 L1061.0,2338.9 L1062.0,2338.5 L1063.0,2339.1 L1064.5,2341.8 L1069.0,2354.7 L1070.0,2356.9 L1071.0,2358.4 L1072.0,2359.3 L1073.0,2359.7 L1074.5,2359.8 L1077.5,2359.6 L1079.0,2360.0 L1080.5,2361.5 L1082.0,2364.5 L1083.5,2369.4 L1085.0,2376.6 L1090.5,2412.5 L1092.0,2418.9 L1092.5,2420.3 L1093.5,2421.9 L1094.0,2422.2 L1094.5,2422.1 L1095.0,2421.6 L1096.0,2419.8 L1097.0,2416.6 L1098.5,2409.7 L1102.0,2389.0 L1104.0,2378.8 L1106.0,2371.4 L1108.0,2366.5 L1109.0,2364.7 L1110.5,2362.8 L1112.0,2361.6 L1113.5,2360.8 L1115.5,2360.4 L1120.0,2360.3 L1124.5,2359.5 L1126.5,2359.5 L1128.0,2360.0 L1129.0,2360.7 L1130.0,2361.9 L1131.0,2363.5 L1132.0,2365.8 L1133.0,2368.7 L1134.5,2374.9 L1135.5,2380.3 L1137.0,2390.4 L1142.0,2431.7 L1143.5,2440.0 L1144.5,2443.3 L1145.0,2444.3 L1145.5,2444.8 L1146.0,2444.8 L1146.5,2444.4 L1147.5,2442.2 L1148.5,2438.2 L1150.0,2429.4 L1154.0,2400.5 L1155.5,2392.0 L1157.0,2385.6 L1158.5,2381.0 L1160.0,2377.9 L1161.5,2376.2 L1163.0,2375.4 L1164.0,2375.4 L1165.0,2375.8 L1166.0,2376.5 L1167.0,2377.6 L1168.0,2379.2 L1169.0,2381.3 L1170.5,2385.8 L1172.0,2391.9 L1173.5,2399.9 L1178.0,2429.0 L1179.5,2434.8 L1180.0,2435.9 L1180.5,2436.4 L1181.0,2436.4 L1181.5,2435.9 L1182.0,2434.8 L1183.5,2428.2 L1185.0,2417.4 L1189.0,2383.4 L1190.0,2377.0 L1191.5,2369.7 L1193.0,2364.8 L1194.0,2362.5 L1195.0,2360.7 L1197.0,2358.2 L1202.5,2352.9 L1206.0,2350.6 L1210.0,2348.8 L1219.0,2345.9 L1224.0,2344.7 L1226.5,2344.4 L1229.0,2344.6 L1235.0,2346.5 L1237.5,2346.9 L1239.0,2346.8 L1241.0,2346.3 L1248.0,2343.5 L1252.5,2342.7 L1258.5,2342.6 L1273.5,2343.6 L1280.5,2343.3 L1286.5,2342.2 L1300.0,2338.4 L1311.5,2335.8 L1317.5,2334.1 L1322.0,2332.5 L1326.0,2330.5 L1329.5,2328.1 L1333.0,2325.0 L1336.0,2321.6 L1339.0,2317.2 L1341.5,2312.7 L1344.0,2306.9 L1346.5,2299.3 L1348.5,2291.6 L1350.5,2282.1 L1352.0,2273.4 L1353.5,2262.8 L1355.0,2249.7 L1356.5,2233.2 L1357.5,2219.7 L1359.5,2185.3 L1361.5,2138.7 L1367.0,1968.7 L1368.0,1949.6 L1368.5,1944.2 L1369.0,1941.9 L1369.5,1942.9 L1370.0,1947.0 L1370.5,1954.1 L1371.5,1976.0 L1376.5,2133.3 L1378.0,2170.7 L1380.0,2209.4 L1382.0,2237.7 L1384.0,2258.3 L1386.5,2276.5 L1388.0,2284.6 L1389.5,2291.2 L1391.5,2298.2 L1393.5,2303.8 L1396.0,2309.3 L1399.0,2314.3 L1402.5,2318.8 L1406.0,2322.1 L1410.0,2325.0 L1415.0,2327.8 L1421.0,2330.1 L1428.0,2332.0 L1435.0,2333.1 L1442.0,2333.4 L1448.0,2333.0 L1454.0,2331.8 L1460.5,2329.7 L1466.5,2327.1 L1471.5,2324.3 L1476.0,2321.3 L1480.5,2317.6 L1484.5,2313.7 L1488.0,2309.5 L1491.5,2304.5 L1494.5,2299.2 L1497.0,2293.8 L1499.5,2287.3 L1501.5,2280.9 L1503.5,2273.2 L1505.0,2266.3 L1506.5,2258.2 L1508.0,2248.5 L1509.5,2236.8 L1511.0,2222.6 L1513.0,2198.4 L1515.0,2165.7 L1516.5,2133.6 L1518.0,2092.9 L1519.5,2041.6 L1521.0,1978.1 L1525.5,1753.0 L1526.5,1719.7 L1527.0,1709.4 L1527.5,1703.8 L1528.0,1703.3 L1528.5,1707.9 L1529.0,1717.3 L1530.0,1749.0 L1535.5,2017.7 L1537.5,2090.0 L1539.5,2143.1 L1542.0,2189.7 L1543.5,2210.3 L1545.5,2231.6 L1547.5,2248.0 L1549.5,2260.7 L1552.0,2273.0 L1554.5,2282.6 L1556.0,2287.3 L1558.0,2292.7 L1561.5,2300.3 L1563.5,2303.9 L1566.0,2307.8 L1568.5,2311.1 L1571.0,2314.1 L1574.0,2317.2 L1577.0,2319.9 L1580.5,2322.7 L1584.0,2325.1 L1587.5,2327.3 L1591.5,2329.4 L1595.5,2331.3 L1599.5,2332.9 L1605.5,2334.8 L1611.0,2336.0 L1622.0,2337.4 L1638.0,2339.9 L1646.0,2340.8 L1676.0,2341.8 L1721.0,2342.4"/>
<path class="cv" stroke="#000000" stroke-width="7.80" d="M259.8,1674.1 L265.3,1670.0 L266.8,1669.2 L268.3,1668.7 L269.8,1668.5 L271.3,1668.6 L277.3,1670.0 L279.3,1670.2 L280.8,1670.1 L284.3,1669.3 L293.3,1665.6 L295.3,1665.1 L297.3,1664.9 L300.3,1664.9 L303.8,1665.2 L316.8,1667.2 L321.8,1667.7 L337.8,1668.1 L372.3,1668.2 L391.8,1668.0 L397.8,1667.6 L408.8,1666.0 L411.3,1665.8 L413.3,1665.9 L415.3,1666.4 L417.3,1667.2 L419.3,1668.6 L421.8,1670.8 L425.8,1675.2 L434.8,1686.5 L439.3,1691.2 L441.3,1692.8 L442.8,1693.7 L444.8,1694.4 L446.3,1694.6 L447.8,1694.4 L449.3,1693.8 L450.8,1692.7 L452.3,1691.3 L455.3,1687.7 L462.3,1677.9 L464.3,1675.5 L466.3,1673.7 L468.3,1672.5 L470.3,1671.7 L473.8,1670.7 L477.3,1670.1 L481.3,1669.8 L485.3,1670.0 L489.3,1670.6 L499.3,1672.5 L504.8,1673.1 L530.8,1673.7 L537.3,1674.1 L539.8,1674.8 L542.3,1676.0 L550.8,1682.0 L553.3,1683.5 L555.8,1684.5 L557.8,1684.8 L559.8,1684.6 L562.3,1683.5 L564.8,1681.7 L571.8,1676.0 L574.3,1674.7 L576.8,1674.0 L581.3,1673.6 L590.3,1673.2 L593.8,1673.2 L596.3,1673.5 L597.8,1674.1 L599.8,1675.3 L606.8,1681.1 L608.8,1682.1 L610.3,1682.2 L611.8,1681.7 L613.3,1680.7 L618.8,1674.4 L621.8,1671.4 L624.3,1669.6 L626.3,1668.7 L627.8,1668.4 L629.3,1668.5 L637.3,1670.5 L639.3,1670.7 L641.8,1670.7 L645.3,1670.3 L648.8,1669.5 L657.8,1666.9 L662.3,1665.0 L666.3,1662.6 L671.3,1658.9 L676.3,1654.4 L679.8,1650.5 L682.8,1646.2 L685.3,1641.8 L686.8,1637.9 L687.8,1634.1 L688.8,1628.8 L690.3,1616.9 L691.8,1600.3 L695.3,1555.7 L697.3,1535.8 L698.3,1528.4 L699.3,1522.8 L700.3,1519.1 L700.8,1518.1 L701.3,1517.6 L701.8,1517.7 L702.3,1518.3 L703.3,1521.2 L704.3,1526.3 L705.3,1533.2 L707.3,1552.0 L711.8,1601.6 L713.8,1618.1 L715.8,1629.8 L716.8,1634.2 L718.3,1639.4 L719.3,1642.1 L720.8,1645.4 L722.8,1648.7 L724.8,1651.2 L726.8,1652.9 L728.3,1653.5 L729.3,1653.5 L730.3,1653.3 L731.3,1652.8 L732.8,1651.7 L735.3,1649.1 L737.8,1645.1 L740.3,1639.1 L745.3,1623.0 L747.8,1615.8 L749.8,1611.4 L750.8,1610.0 L751.8,1609.4 L752.8,1609.7 L753.3,1610.2 L754.3,1611.9 L755.3,1614.4 L757.8,1623.1 L762.3,1642.4 L764.3,1649.9 L766.3,1655.2 L767.3,1657.1 L768.8,1659.1 L769.8,1659.8 L770.8,1660.1 L771.8,1659.9 L773.3,1658.9 L775.8,1655.6 L780.8,1646.8 L781.8,1645.6 L782.8,1645.1 L783.8,1645.4 L784.8,1646.4 L788.8,1653.4 L789.8,1654.7 L790.8,1655.7 L792.3,1656.6 L793.8,1656.9 L795.3,1656.8 L796.8,1656.1 L798.3,1654.4 L799.8,1651.7 L801.3,1647.5 L802.3,1643.7 L804.8,1630.4 L808.8,1603.9 L810.8,1592.0 L811.8,1587.2 L812.8,1583.8 L813.8,1581.9 L814.3,1581.6 L814.8,1581.8 L815.8,1583.3 L816.8,1586.4 L817.8,1590.8 L819.8,1602.2 L825.3,1639.9 L827.3,1650.1 L829.3,1657.8 L830.8,1662.4 L832.3,1666.1 L833.8,1669.2 L835.3,1671.7 L837.3,1674.4 L839.3,1676.5 L841.3,1678.2 L842.8,1679.1 L844.3,1679.2 L845.3,1678.6 L845.8,1678.0 L846.8,1676.2 L847.8,1673.0 L848.8,1668.3 L849.8,1661.9 L853.3,1634.3 L854.8,1624.7 L855.8,1619.9 L856.8,1616.2 L857.8,1613.7 L858.8,1612.5 L859.3,1612.4 L859.8,1612.6 L860.3,1613.2 L861.3,1615.2 L862.3,1618.2 L870.8,1653.4 L873.3,1662.4 L875.8,1670.0 L877.8,1674.6 L880.3,1678.5 L881.8,1680.0 L883.3,1681.1 L884.3,1681.6 L885.8,1681.8 L887.3,1681.6 L888.8,1681.1 L895.8,1677.0 L898.8,1675.9 L901.8,1675.7 L909.3,1676.8 L910.8,1676.7 L912.3,1676.3 L914.8,1674.8 L920.8,1669.2 L923.8,1667.2 L926.8,1666.3 L933.3,1665.3 L935.8,1664.8 L937.8,1663.9 L939.8,1662.4 L941.3,1660.6 L942.3,1658.8 L944.3,1653.5 L946.3,1645.6 L952.3,1618.4 L953.3,1614.9 L954.3,1612.2 L955.3,1610.8 L955.8,1610.5 L956.3,1610.6 L957.3,1612.0 L958.3,1614.7 L959.3,1618.7 L961.3,1628.8 L967.3,1663.5 L968.8,1670.7 L970.3,1676.6 L972.3,1682.6 L974.3,1686.8 L975.3,1688.3 L976.8,1690.2 L978.3,1691.5 L979.8,1692.4 L981.3,1692.8 L982.8,1692.9 L984.3,1692.6 L986.3,1691.7 L989.3,1690.0 L991.8,1688.2 L994.3,1686.1 L996.3,1684.1 L999.8,1679.9 L1002.8,1675.5 L1006.3,1669.1 L1010.8,1659.1 L1011.8,1657.7 L1012.8,1657.2 L1013.3,1657.3 L1013.8,1657.7 L1014.3,1658.3 L1015.3,1660.4 L1020.8,1677.8 L1022.8,1682.8 L1025.3,1687.9 L1027.3,1691.0 L1029.8,1693.9 L1033.3,1696.6 L1036.3,1698.2 L1037.8,1698.6 L1039.3,1698.7 L1041.8,1698.2 L1044.3,1697.0 L1047.3,1694.7 L1050.3,1691.7 L1052.8,1688.5 L1057.8,1679.6 L1059.8,1676.7 L1061.8,1674.7 L1063.8,1673.6 L1065.3,1673.3 L1066.3,1673.4 L1068.3,1674.3 L1070.3,1676.1 L1074.3,1680.4 L1075.8,1681.6 L1076.8,1682.2 L1077.8,1682.5 L1079.3,1682.6 L1080.8,1682.3 L1082.8,1681.6 L1086.3,1679.8 L1094.3,1674.8 L1096.8,1672.6 L1098.3,1670.7 L1099.8,1667.9 L1101.3,1663.9 L1106.3,1647.0 L1108.3,1641.2 L1109.8,1638.2 L1110.8,1637.2 L1111.3,1637.0 L1111.8,1637.2 L1112.3,1637.6 L1113.8,1640.6 L1118.3,1655.8 L1120.3,1661.9 L1122.8,1668.5 L1125.3,1673.7 L1128.3,1678.1 L1134.8,1685.4 L1142.3,1694.9 L1147.3,1700.3 L1149.3,1702.0 L1150.8,1702.8 L1152.3,1703.0 L1153.8,1702.6 L1155.3,1701.7 L1156.8,1700.4 L1161.8,1694.7 L1163.8,1692.8 L1165.8,1691.6 L1167.3,1691.4 L1168.8,1691.8 L1170.8,1693.4 L1172.3,1695.1 L1176.3,1700.5 L1178.3,1702.7 L1179.8,1703.7 L1180.8,1703.9 L1181.3,1703.8 L1182.3,1703.1 L1182.8,1702.5 L1183.8,1700.2 L1184.3,1698.6 L1185.3,1693.7 L1186.3,1686.4 L1188.3,1664.4 L1194.8,1573.7 L1196.8,1549.3 L1197.8,1540.0 L1198.8,1533.1 L1199.8,1528.6 L1200.3,1527.2 L1200.8,1526.2 L1201.3,1525.8 L1201.8,1525.8 L1202.3,1526.4 L1203.3,1528.8 L1204.3,1532.9 L1205.8,1542.1 L1207.8,1559.1 L1211.8,1598.6 L1213.3,1610.4 L1214.3,1616.7 L1215.8,1623.7 L1217.3,1628.5 L1219.3,1632.7 L1221.3,1635.5 L1223.3,1637.5 L1225.3,1638.6 L1226.3,1638.7 L1227.3,1638.7 L1228.3,1638.3 L1229.3,1637.7 L1230.8,1636.3 L1232.3,1634.3 L1238.8,1624.3 L1245.3,1616.2 L1248.3,1611.1 L1250.8,1605.3 L1253.3,1598.3 L1257.3,1585.4 L1258.8,1581.2 L1260.3,1578.5 L1260.8,1578.1 L1261.3,1578.0 L1261.8,1578.1 L1262.8,1579.3 L1263.8,1581.5 L1264.8,1584.6 L1267.3,1595.4 L1271.3,1617.2 L1273.3,1626.8 L1274.3,1630.6 L1275.8,1635.1 L1277.3,1638.6 L1278.8,1641.4 L1280.3,1643.6 L1281.8,1645.4 L1283.8,1647.3 L1285.8,1648.9 L1289.8,1651.5 L1299.3,1656.8 L1303.3,1658.7 L1306.8,1659.9 L1309.8,1660.1 L1312.3,1659.6 L1314.3,1658.7 L1316.8,1657.1 L1327.3,1649.5 L1330.3,1647.1 L1332.3,1645.1 L1334.3,1642.7 L1336.3,1639.6 L1337.8,1636.8 L1340.3,1631.1 L1343.3,1623.2 L1345.8,1615.8 L1348.3,1607.6 L1353.8,1587.1 L1356.3,1576.3 L1358.3,1566.5 L1361.3,1549.3 L1363.8,1531.7 L1366.3,1510.4 L1368.8,1485.3 L1371.8,1451.7 L1374.3,1419.0 L1379.8,1326.8 L1381.8,1297.9 L1382.8,1286.9 L1383.8,1278.6 L1384.8,1273.7 L1385.3,1272.6 L1385.8,1272.5 L1386.3,1273.4 L1386.8,1275.2 L1387.8,1281.9 L1388.8,1292.4 L1389.8,1306.5 L1391.8,1344.0 L1396.8,1457.8 L1399.3,1508.8 L1400.8,1534.2 L1402.3,1554.7 L1403.3,1565.4 L1404.8,1577.3 L1406.3,1585.2 L1407.8,1590.4 L1409.3,1593.6 L1410.3,1594.8 L1411.3,1595.3 L1411.8,1595.4 L1412.8,1595.0 L1413.8,1594.0 L1414.8,1592.6 L1416.3,1589.9 L1419.8,1582.5 L1421.8,1579.2 L1422.8,1578.3 L1423.3,1578.2 L1424.3,1578.6 L1424.8,1579.3 L1425.8,1581.5 L1427.3,1586.8 L1432.3,1610.3 L1435.8,1623.9 L1437.8,1629.9 L1439.8,1634.7 L1441.8,1638.5 L1443.8,1641.3 L1446.3,1643.8 L1449.3,1646.0 L1452.3,1647.4 L1455.3,1648.1 L1459.3,1647.9 L1463.8,1647.0 L1468.8,1645.2 L1471.8,1643.5 L1474.3,1641.4 L1476.3,1639.0 L1478.8,1635.3 L1481.3,1630.8 L1483.3,1626.5 L1484.8,1622.6 L1486.3,1618.1 L1488.3,1611.0 L1491.8,1596.0 L1495.3,1577.3 L1498.3,1557.4 L1501.3,1533.8 L1503.8,1510.8 L1505.8,1489.8 L1511.8,1415.7 L1513.8,1393.3 L1515.8,1374.0 L1518.3,1353.7 L1520.3,1340.9 L1521.3,1336.0 L1522.3,1332.2 L1523.3,1329.4 L1524.3,1327.5 L1525.3,1326.2 L1526.3,1325.5 L1526.8,1325.4 L1527.8,1325.7 L1528.8,1326.7 L1529.8,1328.5 L1530.8,1330.9 L1533.3,1339.7 L1535.8,1351.3 L1537.8,1362.6 L1540.3,1379.0 L1548.3,1438.7 L1550.8,1461.6 L1552.8,1486.1 L1556.3,1537.3 L1560.8,1610.5 L1562.8,1635.5 L1564.8,1652.1 L1566.8,1663.2 L1567.8,1667.4 L1569.3,1672.5 L1570.3,1675.1 L1571.8,1678.2 L1573.8,1681.2 L1575.8,1683.6 L1578.3,1686.1 L1580.3,1687.7 L1582.3,1688.9 L1584.3,1689.8 L1586.3,1690.2 L1588.8,1690.3 L1591.3,1690.0 L1594.8,1689.3 L1616.3,1683.6 L1623.3,1682.2 L1664.3,1677.1 L1689.8,1675.1 L1702.8,1673.8 L1710.3,1672.5 L1720.8,1669.8"/>
<text transform="translate(902.30,135.00) scale(1.0000,1.0400)" font-size="78.50" fill="#000000">IR</text>
<text transform="translate(872.30,1373.80) scale(1.0000,1.0600)" font-size="75.50" fill="#000000">VCD</text>
<text transform="translate(334.20,310.60) scale(1.0000,1.0550)" font-size="60.00" fill="#ff0000">Avg. high-spin</text>
<text transform="translate(332.50,741.30) scale(1.0000,1.0550)" font-size="60.00" fill="#0000ff">Avg. low-spin</text>
<text transform="translate(328.50,1078.90) scale(1.0000,1.0550)" font-size="60.00" fill="#000000">Exp.</text>
<text transform="translate(328.50,1502.80) scale(1.0000,1.0550)" font-size="60.00" fill="#000000">Exp.</text>
<text transform="translate(333.50,2262.40) scale(1.0000,1.0550)" font-size="60.00" fill="#0000ff">Avg. low-spin</text>
<text transform="translate(334.00,2630.60) scale(1.0000,1.0550)" font-size="60.00" fill="#ff0000">Avg. high-spin</text>
<g transform="translate(144.98,138.60) scale(0.9750,1.0600)"><text font-size="60.00" class="tk"><tspan x="0.00 37.37 58.04" y="0.00">6.0</tspan></text>
</g>
<g transform="translate(146.28,387.00) scale(0.9750,1.0600)"><text font-size="60.00" class="tk"><tspan x="0.00 37.37 58.04" y="0.00">4.0</tspan></text>
</g>
<g transform="translate(144.98,634.60) scale(0.9750,1.0600)"><text font-size="60.00" class="tk"><tspan x="0.00 37.37 58.04" y="0.00">2.0</tspan></text>
</g>
<g transform="translate(145.98,884.20) scale(0.9750,1.0600)"><text font-size="60.00" class="tk"><tspan x="0.00 37.37 58.04" y="0.00">0.0</tspan></text>
</g>
<g transform="translate(145.18,1743.60) scale(0.9750,1.0600)"><text font-size="60.00" class="tk"><tspan x="0.00 37.37 58.04" y="0.00">8.0</tspan></text>
</g>
<g transform="translate(145.18,2101.90) scale(0.9750,1.0600)"><text font-size="60.00" class="tk"><tspan x="0.00 37.37 58.04" y="0.00">4.0</tspan></text>
</g>
<g transform="translate(146.28,2476.30) scale(0.9750,1.0600)"><text font-size="60.00" class="tk"><tspan x="0.00 37.37 58.04" y="0.00">0.0</tspan></text>
</g>
<g transform="translate(125.60,2840.00) scale(0.9750,1.0600)"><text font-size="60.00" class="tk"><tspan x="0.00 23.98 61.35 82.02" y="0.00">-4.0</tspan></text>
</g>
<g transform="translate(1750.60,854.60) scale(0.9750,1.0600)"><text font-size="60.00" class="tk"><tspan x="0.00 36.57 56.44" y="0.00">0.5</tspan></text>
</g>
<g transform="translate(1750.60,1202.00) scale(0.9750,1.0600)"><text font-size="60.00" class="tk"><tspan x="0.00 36.57 56.44" y="0.00">0.0</tspan></text>
</g>
<g transform="translate(1752.00,1463.30) scale(0.9750,1.0600)"><text font-size="60.00" class="tk"><tspan x="0.00 36.57 56.44" y="0.00">0.6</tspan></text>
</g>
<g transform="translate(1750.60,1694.30) scale(0.9750,1.0600)"><text font-size="60.00" class="tk"><tspan x="0.00 36.57 56.44" y="0.00">0.0</tspan></text>
</g>
<g transform="translate(293.20,2955.30) scale(0.9750,1.0600)"><text font-size="60.00" class="tk"><tspan x="1.80 37.37 74.74 112.11" y="0.00">1000</tspan></text>
<path fill="#fff" d="M4.50,-6.30h12.24v7.50h-12.24zM22.32,-6.30h11.88v7.50h-11.88z"/>
</g>
<g transform="translate(487.97,2955.30) scale(0.9750,1.0600)"><text font-size="60.00" class="tk"><tspan x="1.80 39.17 74.74 112.11" y="0.00">1100</tspan></text>
<path fill="#fff" d="M4.50,-6.30h12.24v7.50h-12.24zM22.32,-6.30h11.88v7.50h-11.88zM41.87,-6.30h12.24v7.50h-12.24zM59.69,-6.30h11.88v7.50h-11.88z"/>
</g>
<g transform="translate(682.73,2955.30) scale(0.9750,1.0600)"><text font-size="60.00" class="tk"><tspan x="1.80 37.37 74.74 112.11" y="0.00">1200</tspan></text>
<path fill="#fff" d="M4.50,-6.30h12.24v7.50h-12.24zM22.32,-6.30h11.88v7.50h-11.88z"/>
</g>
<g transform="translate(877.50,2955.30) scale(0.9750,1.0600)"><text font-size="60.00" class="tk"><tspan x="1.80 37.37 74.74 112.11" y="0.00">1300</tspan></text>
<path fill="#fff" d="M4.50,-6.30h12.24v7.50h-12.24zM22.32,-6.30h11.88v7.50h-11.88z"/>
</g>
<g transform="translate(1072.27,2955.30) scale(0.9750,1.0600)"><text font-size="60.00" class="tk"><tspan x="1.80 37.37 74.74 112.11" y="0.00">1400</tspan></text>
<path fill="#fff" d="M4.50,-6.30h12.24v7.50h-12.24zM22.32,-6.30h11.88v7.50h-11.88z"/>
</g>
<g transform="translate(1267.04,2955.30) scale(0.9750,1.0600)"><text font-size="60.00" class="tk"><tspan x="1.80 37.37 74.74 112.11" y="0.00">1500</tspan></text>
<path fill="#fff" d="M4.50,-6.30h12.24v7.50h-12.24zM22.32,-6.30h11.88v7.50h-11.88z"/>
</g>
<g transform="translate(1461.80,2955.30) scale(0.9750,1.0600)"><text font-size="60.00" class="tk"><tspan x="1.80 37.37 74.74 112.11" y="0.00">1600</tspan></text>
<path fill="#fff" d="M4.50,-6.30h12.24v7.50h-12.24zM22.32,-6.30h11.88v7.50h-11.88z"/>
</g>
<g transform="translate(1656.57,2955.30) scale(0.9750,1.0600)"><text font-size="60.00" class="tk"><tspan x="1.80 37.37 74.74 112.11" y="0.00">1700</tspan></text>
<path fill="#fff" d="M4.50,-6.30h12.24v7.50h-12.24zM22.32,-6.30h11.88v7.50h-11.88z"/>
</g>
<g transform="translate(61.80,951.00) rotate(-90) scale(1.0000,1.0550)"><text font-size="60.00" class="tk"><tspan x="0.00 18.15 34.82 64.82 83.29 114.86" y="0.00">ε x 10</tspan><tspan x="148.23 173.63" y="-13.60" font-size="43.50">+3</tspan><tspan x="197.82 214.49 231.16 247.83" y="0.00"> / M</tspan><tspan x="297.81 313.60" y="-13.60" font-size="43.50">-1</tspan><tspan x="336.49 353.16 383.16" y="0.00"> cm</tspan><tspan x="433.14 448.93" y="-13.60" font-size="43.50">-1</tspan></text>
<path fill="#fff" d="M85.99,-6.30h12.24v7.50h-12.24zM103.81,-6.30h11.88v7.50h-11.88zM315.56,-18.17h8.87v5.44h-8.87zM328.48,-18.17h8.61v5.44h-8.61zM450.89,-18.17h8.87v5.44h-8.87zM463.81,-18.17h8.61v5.44h-8.61z"/>
</g>
<g transform="translate(60.80,2506.00) rotate(-90) scale(1.0000,1.0550)"><text font-size="60.00" class="tk"><tspan x="0.00 40.08 64.23 80.90 97.57 114.24" y="0.00">Δε / M</tspan><tspan x="164.22 180.01" y="-13.60" font-size="43.50">-1</tspan><tspan x="202.89 219.56 249.56" y="0.00"> cm</tspan><tspan x="299.55 315.34" y="-13.60" font-size="43.50">-1</tspan></text>
<path fill="#fff" d="M181.96,-18.17h8.87v5.44h-8.87zM194.88,-18.17h8.61v5.44h-8.61zM317.29,-18.17h8.87v5.44h-8.87zM330.21,-18.17h8.61v5.44h-8.61z"/>
</g>
<g transform="translate(1934.30,1115.30) rotate(-90) scale(1.0000,1.0550)"><text font-size="60.00" class="tk"><tspan x="0.00 40.02 57.69 74.36 92.03 125.40 142.07 175.44" y="0.00">A / a.u.</tspan></text>
</g>
<g transform="translate(1943.30,1685.00) rotate(-90) scale(1.0000,1.0550)"><text font-size="60.00" class="tk"><tspan x="0.00 40.08 80.10 110.10 128.57 160.14" y="0.00">ΔAx 10</tspan><tspan x="193.51 207.99" y="-13.60" font-size="43.50">-3</tspan><tspan x="232.18 248.85 265.52 282.19 315.56 332.23 365.60" y="0.00"> / a.u.</tspan></text>
<path fill="#fff" d="M131.27,-6.30h12.24v7.50h-12.24zM149.09,-6.30h11.88v7.50h-11.88z"/>
</g>
<g transform="translate(705.90,3061.40) scale(1.0000,1.0550)"><text font-size="60.00" class="tk"><tspan x="0.00 56.25 93.24 125.86 161.85 199.34 235.33 287.93 323.92 359.91 378.11 397.40 412.19 431.48 464.10" y="0.00">Wavenumber / cm</tspan><tspan x="515.60 534.59" y="-13.60" font-size="43.50">-1</tspan></text>
<path fill="#fff" d="M536.55,-18.17h8.87v5.44h-8.87zM549.46,-18.17h8.61v5.44h-8.61z"/>
</g>
</g>
</svg></body></html>
